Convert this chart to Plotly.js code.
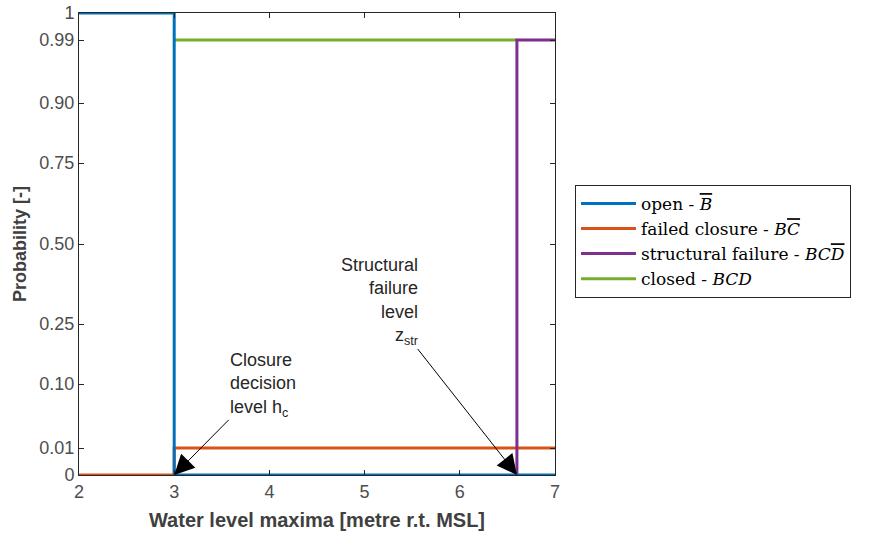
<!DOCTYPE html>
<html><head><meta charset="utf-8">
<script src="https://cdn.plot.ly/plotly-3.0.1.min.js"></script>
<style>html,body{margin:0;padding:0;background:#fff}#plot{width:870px;height:534px}</style>
</head><body><div id="plot"></div>
<script>
// Probability scale (non-linear axis): tick probabilities, their labels and their axis positions
const probTicks = [0, 0.01, 0.10, 0.25, 0.50, 0.75, 0.90, 0.99, 1];
const probLabels = ['0', '0.01', '0.10', '0.25', '0.50', '0.75', '0.90', '0.99', '1'];
const probScale = [0, 27, 91, 151, 231, 312, 372, 435, 462];

// Series (step lines): water level x and probability y
const openX = [2, 3, 3, 7];
const openP = [1, 1, 0, 0];
const failedX = [2, 3, 3, 7];
const failedP = [0, 0, 0.01, 0.01];
const structX = [6.6, 6.6, 7];
const structP = [0, 0.99, 0.99];
const closedX = [3, 6.6];
const closedP = [0.99, 0.99];

const xTicks = [2, 3, 4, 5, 6, 7];
const hcLevel = 3, zstrLevel = 6.6;

function pmap(p) {
  for (let i = 0; i < probTicks.length - 1; i++) {
    if (p <= probTicks[i + 1]) {
      const t = (p - probTicks[i]) / (probTicks[i + 1] - probTicks[i]);
      return probScale[i] + t * (probScale[i + 1] - probScale[i]);
    }
  }
  return probScale[probScale.length - 1];
}

const ov = s => '<span style="text-decoration:overline">' + s + '</span>';
const serif = {family: 'DejaVu Serif, Liberation Serif, serif', size: 17, color: '#000'};
const sans = 'Liberation Sans, Arial, sans-serif';

const traces = [
  {x: failedX, y: failedP.map(pmap), name: 'failed closure - <i>B</i>' + '<i>' + ov('C') + '</i>', line: {color: '#D95319', width: 3}, legendrank: 2},
  {x: closedX, y: closedP.map(pmap), name: 'closed - <i>BCD</i>', line: {color: '#77AC30', width: 3}, legendrank: 4},
  {x: structX, y: structP.map(pmap), name: 'structural failure - <i>BC</i>' + '<i>' + ov('D') + '</i>', line: {color: '#7E2F8E', width: 3}, legendrank: 3},
  {x: openX, y: openP.map(pmap), name: 'open - <i>' + ov('B') + '</i>', line: {color: '#0072BD', width: 3}, legendrank: 1}
].map(t => Object.assign({type: 'scatter', mode: 'lines', hoverinfo: 'skip', cliponaxis: false}, t));

const axisCommon = {
  showline: true, linecolor: '#262626', linewidth: 1, mirror: 'ticks',
  ticks: 'inside', ticklen: 5, tickcolor: '#262626', showgrid: false, zeroline: false,
  tickfont: {family: sans, size: 18, color: '#4d4d4d'}
};

const layout = {
  width: 870, height: 534,
  margin: {l: 79, r: 315, t: 13, b: 59},
  paper_bgcolor: '#fff', plot_bgcolor: '#fff',
  showlegend: true,
  xaxis: Object.assign({}, axisCommon, {
    range: [2, 7], tickvals: xTicks, ticktext: xTicks.map(String),
    title: {text: '<b>Water level maxima [metre r.t. MSL]</b>', standoff: 12,
      font: {family: sans, size: 20, color: '#404040'}}
  }),
  yaxis: Object.assign({}, axisCommon, {
    range: [0, 462], tickvals: probScale, ticktext: probLabels,
    title: {text: '<b>Probability [-]</b>', standoff: 8,
      font: {family: sans, size: 18, color: '#404040'}}
  }),
  legend: {
    x: 1.042, xanchor: 'left', y: 0.628, yanchor: 'top',
    bgcolor: '#fff', bordercolor: '#262626', borderwidth: 1,
    font: serif, tracegroupgap: 0, itemwidth: 55
  },
  annotations: [
    {x: hcLevel, y: pmap(0), xref: 'x', yref: 'y', ax: 89, ay: -90,
     text: 'Closure<br>decision<br>level h<sub>c</sub>', align: 'left',
     showarrow: true, arrowhead: 2, arrowsize: 4, arrowwidth: 1, arrowcolor: '#000',
     font: {family: sans, size: 18, color: '#262626'}},
    {x: zstrLevel, y: pmap(0), xref: 'x', yref: 'y', ax: -137, ay: -174,
     text: 'Structural<br>failure<br>level<br>z<sub>str</sub>', align: 'right',
     showarrow: true, arrowhead: 2, arrowsize: 4, arrowwidth: 1, arrowcolor: '#000',
     font: {family: sans, size: 18, color: '#262626'}}
  ]
};

Plotly.newPlot('plot', traces, layout, {displayModeBar: false, staticPlot: true});
</script></body></html>
